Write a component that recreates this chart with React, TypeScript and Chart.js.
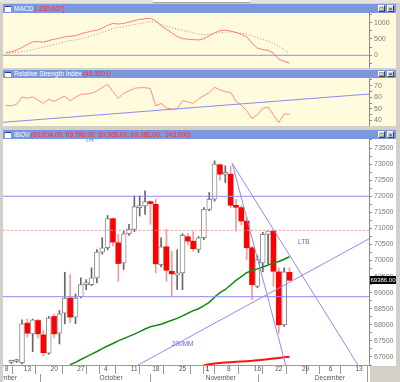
import React, { useEffect, useRef } from 'react';
import { Chart, registerables } from 'chart.js';

Chart.register(...registerables);

const FONT = "'Liberation Sans', Arial, sans-serif";

// x domain: trading-day index, 0 = 13 Sep 2010
const X_MIN = -3.55;
const X_MAX = 64.86;

// ---------- IBOV daily candles (first candle = day -2) ----------
const CANDLE_FIRST_DAY = -2;
const OPEN = [66830, 66860, 66822, 68053, 67719, 68134, 67688, 67115, 68260, 67740, 68365, 68834, 68240, 68865, 69250, 69250, 69459, 70260, 70397, 71303, 70553, 69928, 70834, 70969, 71647, 71697, 71834, 71750, 69875, 70428, 69666, 69541, 69616, 70740, 70603, 70344, 70709, 71594, 71906, 72978, 72680, 72688, 71697, 71647, 71228, 70397, 69197, 69928, 70813, 70916, 69647, 68000, 69634];
const HIGH = [66900, 66930, 68156, 68178, 68178, 68178, 67822, 68260, 68340, 68447, 69634, 69562, 68959, 69459, 69406, 69771, 70344, 70709, 71400, 71330, 70813, 70916, 71125, 72009, 72009, 72166, 71860, 71906, 70709, 70969, 70290, 70330, 70834, 70850, 70900, 70750, 71650, 72116, 73103, 73000, 72947, 72928, 71906, 71700, 71330, 70450, 70150, 70880, 70920, 70950, 69772, 69772, 69780];
const LOW = [66800, 66830, 66780, 67616, 67166, 67594, 67031, 67080, 67594, 67406, 68031, 68072, 68031, 68834, 69094, 69219, 69300, 70200, 70330, 70447, 69353, 69719, 70780, 70900, 71384, 71437, 71125, 69616, 69800, 69353, 68884, 69100, 69094, 70500, 70290, 70250, 70650, 71550, 71850, 72500, 72428, 71650, 70916, 71100, 70031, 68781, 69150, 69650, 69900, 69197, 67740, 67950, 69368];
const CLOSE = [66860, 66900, 68031, 67740, 68156, 67719, 67134, 68209, 67719, 68344, 68834, 68240, 68834, 69250, 69290, 69459, 70260, 70397, 71303, 70572, 69906, 70834, 70969, 71678, 71697, 71834, 71772, 69897, 70428, 69697, 69584, 69616, 70781, 70603, 70365, 70709, 71594, 71906, 73000, 72688, 72720, 71719, 71656, 71228, 70397, 69250, 70031, 70813, 70916, 69666, 68000, 69647, 69386];

// ---------- moving averages ----------
const MA_GREEN_FIRST_DAY = 9;
const MA_GREEN = [66760, 66830, 66920, 67005, 67090, 67170, 67260, 67340, 67420, 67500, 67570, 67640, 67710, 67790, 67870, 67940, 67980, 68020, 68080, 68140, 68200, 68280, 68360, 68440, 68500, 68600, 68700, 68860, 69000, 69100, 69240, 69380, 69500, 69620, 69690, 69740, 69800, 69860, 69920, 69970, 70040, 70116];
const MA_RED_FIRST_DAY = 34;
const MA_RED = [66740, 66770, 66800, 66812, 66824, 66836, 66848, 66860, 66870, 66880, 66895, 66912, 66930, 66950, 66970, 66990, 67010];

// ---------- indicators (first value = day -3) ----------
const IND_FIRST_DAY = -3;
const MACD = [90, 100, 160, 240, 330, 410, 420, 400, 450, 490, 520, 565, 585, 600, 660, 700, 740, 770, 830, 920, 975, 960, 975, 1020, 1065, 1100, 1120, 1130, 1060, 910, 800, 690, 580, 510, 495, 480, 470, 510, 600, 690, 755, 775, 740, 700, 640, 570, 370, 220, 175, 150, 70, -120, -185, -236];
const MACD_SIGNAL = [60, 70, 90, 110, 140, 175, 210, 250, 290, 330, 370, 410, 450, 470, 505, 545, 595, 650, 710, 760, 820, 850, 880, 910, 940, 970, 1000, 1040, 1010, 950, 900, 850, 800, 770, 730, 690, 650, 630, 650, 670, 690, 710, 720, 700, 680, 650, 600, 540, 490, 430, 370, 280, 170, 60];
const RSI = [53.0, 52.7, 53.9, 60.3, 59.1, 60.4, 57.5, 54.8, 58.3, 56.3, 59, 61, 56.8, 60, 62.6, 62.8, 63.3, 65.5, 68.5, 71.2, 65, 59.1, 63.5, 65.5, 67.8, 68.3, 68.3, 67.5, 52.5, 54.6, 50.8, 49.7, 49.8, 57.2, 56, 54.8, 58.5, 61.5, 64, 68.6, 66.5, 64.8, 64.3, 56.8, 53, 48.5, 41.5, 45, 50.4, 51.5, 44.8, 38, 45.5, 45.35];

// ---------- drawn levels and trend lines ----------
const BLUE_LEVELS = [72000, 68875];
const RED_LEVEL = 70940;
const TREND_STEEP_DAY = [39.3, 49.6];
const TREND_STEEP_PRICE = [73022, 66552];
const TREND_SHALLOW_DAY = [39.3, 63.5];
const TREND_SHALLOW_PRICE = [73022, 66563];
const TREND_RISING_DAY = [21.7, 64.9];
const TREND_RISING_PRICE = [66750, 70678];
const RSI_TREND_DAY = [X_MIN, X_MAX];
const RSI_TREND_VALUE = [38.3, 62.8];

const NOTE_TEXT = ['LTB', '200MM', 'TH'];
const NOTE_DAY = [51.6, 28.0, 11.8];
const NOTE_PRICE = [70560, 67406, 73750];

// ---------- axis ticks ----------
const PRICE_LABELS = [67000, 67500, 68000, 68500, 69000, 69500, 70000, 70500, 71000, 71500, 72000, 72500, 73000, 73500];
const PRICE_MINOR = [66750, 67250, 67750, 68250, 68750, 69250, 69750, 70250, 70750, 71250, 71750, 72250, 72750, 73250, 73750];
const MACD_LABELS = [0, 500, 1000];
const MACD_MINOR = [-250, 250, 750, 1250];
const RSI_LABELS = [40, 50, 60, 70];
const RSI_MINOR = [45, 55, 65, 75];

const DAY_TICK_POS = [X_MIN, 0, 5, 10, 15, 20, 24, 29, 34, 38, 43, 47, 52, 57, 62];
const DAY_TICK_LABELS = ['8', '13', '20', '27', '4', '11', '18', '25', '1', '8', '16', '22', '29', '6', '13'];
const MONTH_POS = [-7.25, 14.15, 34, 54.4];
const MONTH_LABELS = ['September', 'October', 'November', 'December'];

const PRICE_MIN = 66750, PRICE_MAX = 73781;
const MACD_MIN = -390, MACD_MAX = 1297;
const RSI_MIN = 35.1, RSI_MAX = 76.7;

const AXIS_W = 27;

const pts = (xs: number[], ys: number[]) => xs.map((x, k) => ({ x, y: ys[k] }));
const series = (first: number, ys: number[]) => ys.map((y, k) => ({ x: first + k, y }));

const lineDs = (data: any[], color: string, width = 1, extra: any = {}) => ({
  type: 'line', data, borderColor: color, borderWidth: width, pointRadius: 0,
  fill: false, tension: 0, order: 0, ...extra,
});

const rightAxis = (min: number, max: number, labels: number[], minor: number[], opts: any = {}) => ({
  type: 'linear', position: 'right', min, max,
  afterBuildTicks: (s: any) => { s.ticks = [...labels, ...minor].sort((a, b) => a - b).map((v) => ({ value: v })); },
  afterFit: (s: any) => { s.width = AXIS_W; s.paddingTop = 0; s.paddingBottom = 0; },
  ticks: {
    autoSkip: false, padding: 2, color: '#7a7a7a', font: { size: 7, family: FONT },
    callback: (v: number) => (labels.includes(v) ? String(v) : ''),
  },
  grid: { drawOnChartArea: false, drawTicks: true, tickLength: 3, color: '#8a8a8a' },
  border: { display: true, color: '#8a8a8a' },
  ...opts,
});

const hiddenX = { type: 'linear', min: X_MIN, max: X_MAX, display: false };

const baseOptions = {
  animation: false, responsive: false, maintainAspectRatio: false, devicePixelRatio: 1,
  events: [],
  layout: { padding: 0 },
  plugins: { legend: { display: false }, tooltip: { enabled: false } },
};

function macdConfig(): any {
  return {
    type: 'line',
    data: {
      datasets: [
        lineDs(pts([X_MIN, X_MAX], [0, 0]), '#8a8af0'),
        lineDs(series(IND_FIRST_DAY, MACD_SIGNAL), '#a89090', 1, { borderDash: [1, 2] }),
        lineDs(series(IND_FIRST_DAY, MACD), '#ff7a7a'),
      ],
    },
    options: { ...baseOptions, scales: { x: hiddenX, y: rightAxis(MACD_MIN, MACD_MAX, MACD_LABELS, MACD_MINOR) } },
  };
}

function rsiConfig(): any {
  return {
    type: 'line',
    data: {
      datasets: [
        lineDs(pts(RSI_TREND_DAY, RSI_TREND_VALUE), '#8a8af0'),
        lineDs(series(IND_FIRST_DAY, RSI), '#ff8c8c'),
      ],
    },
    options: { ...baseOptions, scales: { x: hiddenX, y: rightAxis(RSI_MIN, RSI_MAX, RSI_LABELS, RSI_MINOR) } },
  };
}

const notesPlugin = {
  id: 'notes',
  afterDatasetsDraw(chart: any) {
    const { ctx, scales } = chart;
    ctx.save();
    ctx.font = `6.5px ${FONT}`;
    ctx.fillStyle = '#6262e8';
    ctx.textBaseline = 'middle';
    NOTE_TEXT.forEach((t, k) => {
      ctx.fillText(t, scales.x.getPixelForValue(NOTE_DAY[k]), scales.y.getPixelForValue(NOTE_PRICE[k]));
    });
    ctx.restore();
  },
};

const priceTagPlugin = {
  id: 'priceTag',
  afterDraw(chart: any) {
    const { ctx, scales, chartArea } = chart;
    const last = CLOSE[CLOSE.length - 1];
    const yy = Math.round(scales.y.getPixelForValue(last));
    ctx.save();
    ctx.fillStyle = '#000';
    ctx.fillRect(chartArea.right + 1, yy - 4, AXIS_W - 1, 8);
    ctx.fillStyle = '#fff';
    ctx.font = `6px ${FONT}`;
    ctx.textBaseline = 'middle';
    ctx.fillText(last.toFixed(2), chartArea.right + 1.5, yy);
    ctx.restore();
  },
};

function mainConfig(): any {
  const days = OPEN.map((_, k) => k + CANDLE_FIRST_DAY);
  const isUp = (k: number) => CLOSE[k] >= OPEN[k];
  const wick = (up: boolean) => days.flatMap((d, k) => (isUp(k) === up ? [{ x: d, y: [LOW[k], HIGH[k]] }] : []));
  const body = (up: boolean) => days.flatMap((d, k) => (isUp(k) === up ? [{ x: d, y: [OPEN[k], CLOSE[k]] }] : []));
  const barBase = { type: 'bar', grouped: false };
  const dayLabel = new Map<number, string>();
  DAY_TICK_POS.forEach((p, k) => dayLabel.set(p, ' ' + DAY_TICK_LABELS[k]));
  const monthLabel = new Map<number, string>();
  MONTH_POS.forEach((p, k) => monthLabel.set(p, ' ' + MONTH_LABELS[k]));

  return {
    type: 'bar',
    data: {
      datasets: [
        ...BLUE_LEVELS.map((lv) => lineDs(pts([X_MIN, X_MAX], [lv, lv]), '#8c8cf0')),
        lineDs(pts([X_MIN, X_MAX], [RED_LEVEL, RED_LEVEL]), '#ff8f8f', 1, { borderDash: [2, 2] }),
        lineDs(pts(TREND_STEEP_DAY, TREND_STEEP_PRICE), '#8c8cf0'),
        lineDs(pts(TREND_SHALLOW_DAY, TREND_SHALLOW_PRICE), '#8c8cf0'),
        lineDs(pts(TREND_RISING_DAY, TREND_RISING_PRICE), '#8c8cf0'),
        lineDs(series(MA_GREEN_FIRST_DAY, MA_GREEN), '#128a12', 1.5),
        lineDs(series(MA_RED_FIRST_DAY, MA_RED), '#ff1010', 2),
        { ...barBase, data: body(true), backgroundColor: '#ffffff', borderColor: '#8c8c8c', borderWidth: 1, borderSkipped: false, barThickness: 5, minBarLength: 2, order: 2 },
        { ...barBase, data: body(false), backgroundColor: '#ff0000', borderWidth: 0, barThickness: 5, minBarLength: 2, order: 2 },
        { ...barBase, data: wick(true), backgroundColor: '#666666', barThickness: 1, order: 3 },
        { ...barBase, data: wick(false), backgroundColor: '#f59a9a', barThickness: 1, order: 3 },
      ],
    },
    options: {
      ...baseOptions,
      scales: {
        x: {
          type: 'linear', position: 'bottom', min: X_MIN, max: X_MAX, offset: false,
          afterBuildTicks: (s: any) => {
            s.ticks = [...DAY_TICK_POS, ...MONTH_POS.slice(1)].sort((a, b) => a - b).map((v) => ({ value: v }));
          },
          afterFit: (s: any) => { s.height = 9; s.paddingLeft = 0; s.paddingRight = 0; },
          ticks: {
            autoSkip: false, maxRotation: 0, minRotation: 0, align: 'start', padding: -9,
            color: '#555555', font: { size: 6.5, family: FONT },
            callback: (v: number) => dayLabel.get(v) ?? '',
          },
          grid: { drawOnChartArea: false, drawTicks: true, tickLength: 9, color: '#9a9a9a' },
          border: { display: true, color: '#9a9a9a' },
        },
        x2: {
          type: 'linear', position: 'bottom', min: X_MIN, max: X_MAX, offset: false,
          afterBuildTicks: (s: any) => { s.ticks = MONTH_POS.map((v) => ({ value: v })); },
          afterFit: (s: any) => { s.height = 8; s.paddingLeft = 0; s.paddingRight = 0; },
          ticks: {
            autoSkip: false, maxRotation: 0, minRotation: 0, align: 'start', padding: -8,
            color: '#555555', font: { size: 6.5, family: FONT },
            callback: (v: number) => monthLabel.get(v) ?? '',
          },
          grid: { drawOnChartArea: false, drawTicks: true, tickLength: 8, color: '#9a9a9a' },
          border: { display: false },
        },
        y: rightAxis(PRICE_MIN, PRICE_MAX, PRICE_LABELS, PRICE_MINOR),
      },
    },
    plugins: [notesPlugin, priceTagPlugin],
  };
}

function TitleBar({ top, height, name, value }: { top: number; height: number; name: string; value: string }) {
  const btn = (right: number, glyph: string) => (
    <div style={{
      position: 'absolute', right, top: 1, width: 7, height: height - 2, background: '#d8d4cc',
      border: '1px solid #ffffff', borderRightColor: '#404040', borderBottomColor: '#404040',
      boxSizing: 'border-box', fontSize: 6, lineHeight: `${height - 3}px`, textAlign: 'center', color: '#000',
    }}>{glyph}</div>
  );
  return (
    <div style={{
      position: 'absolute', left: 3, top, width: 393, height, background: '#7b97e0',
      fontFamily: FONT, fontSize: 6.5, lineHeight: `${height}px`, whiteSpace: 'pre', overflow: 'hidden',
    }}>
      <div style={{ position: 'absolute', left: 2, top: 2, width: 6, height: height - 4, background: '#fff', borderTop: '1px solid #2a3a8a' }} />
      <span style={{ position: 'absolute', left: 11, top: 0, color: '#ffffff' }}>
        {name}
        <span style={{ color: '#ff2a2a' }}>{' ' + value}</span>
      </span>
      {btn(11, '□')}
      {btn(2, '×')}
    </div>
  );
}

export default function App() {
  const macdRef = useRef<HTMLCanvasElement>(null);
  const rsiRef = useRef<HTMLCanvasElement>(null);
  const mainRef = useRef<HTMLCanvasElement>(null);

  useEffect(() => {
    const charts = [
      new Chart(macdRef.current as HTMLCanvasElement, macdConfig()),
      new Chart(rsiRef.current as HTMLCanvasElement, rsiConfig()),
      new Chart(mainRef.current as HTMLCanvasElement, mainConfig()),
    ];
    return () => charts.forEach((c) => c.destroy());
  }, []);

  const canvasStyle = (top: number, h: number, bg: string): React.CSSProperties => ({
    position: 'absolute', left: 3, top, width: 393, height: h, background: bg, display: 'block',
  });

  return (
    <div style={{ position: 'fixed', left: 0, top: 0, width: 400, height: 382, background: '#d4d0c8', overflow: 'hidden' }}>
      <div style={{ position: 'absolute', left: 0, top: 0, width: 400, height: 3, background: '#e6e3dc' }} />
      <div style={{ position: 'absolute', left: 153, top: 0, width: 97, height: 2, background: '#fff', borderBottom: '1px solid #a0a0a0' }} />

      <TitleBar top={4} height={9} name="MACD" value="(-236.007)" />
      <canvas ref={macdRef} width={393} height={55} style={canvasStyle(13, 55, '#fffbdc')} />

      <TitleBar top={70} height={8} name="Relative Strength Index" value="(45.3501)" />
      <canvas ref={rsiRef} width={393} height={48} style={canvasStyle(78, 48, '#fffbdc')} />

      <TitleBar top={130} height={9} name="IBOV" value="(69,634.00, 69,780.00, 69,368.00, 69,386.00,  243.000)" />
      <canvas ref={mainRef} width={393} height={243} style={canvasStyle(139, 243, '#ffffff')} />
      <div style={{ position: 'absolute', left: 370, top: 366, width: 30, height: 16, background: '#d4d0c8' }} />
    </div>
  );
}
